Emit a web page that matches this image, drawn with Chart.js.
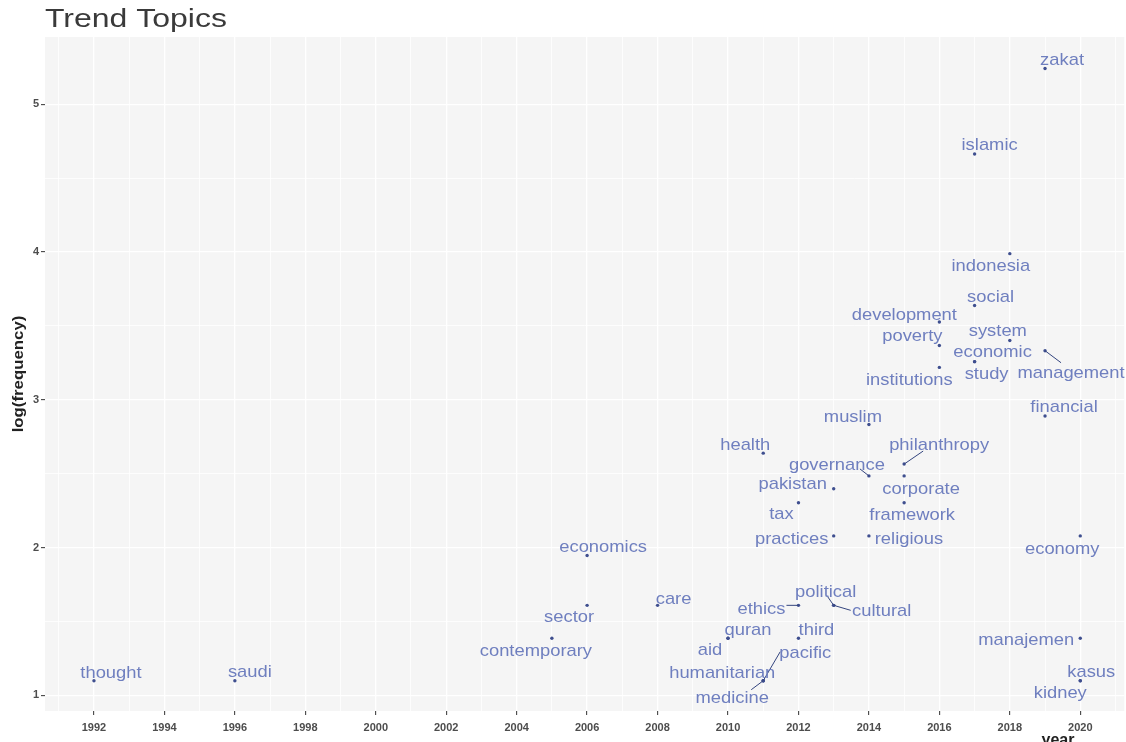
<!DOCTYPE html>
<html>
<head>
<meta charset="utf-8">
<title>Trend Topics</title>
<script src="https://cdn.jsdelivr.net/npm/chart.js@4.4.1/dist/chart.umd.min.js"></script>
<style>
  html, body { margin: 0; padding: 0; background: #ffffff; overflow: hidden; }
  #wrap { width: 1126px; height: 742px; position: relative; }
</style>
</head>
<body>
<div id="wrap"><canvas id="chart" width="1126" height="742"></canvas></div>
<script>
// Trend topics: each term, the year it peaked, and log(frequency)
const terms = [
  'thought', 'saudi', 'contemporary', 'sector', 'economics', 'care',
  'quran', 'aid', 'humanitarian', 'medicine', 'pacific', 'third',
  'ethics', 'political', 'cultural', 'practices', 'religious', 'tax',
  'pakistan', 'governance', 'corporate', 'framework', 'philanthropy', 'health',
  'muslim', 'financial', 'institutions', 'study', 'economic', 'management',
  'system', 'poverty', 'development', 'social', 'indonesia', 'islamic',
  'zakat', 'economy', 'manajemen', 'kasus', 'kidney'
];
const years = [
  1992, 1996, 2005, 2006, 2006, 2008,
  2010, 2010, 2011, 2011, 2011, 2012,
  2012, 2013, 2013, 2013, 2014, 2012,
  2013, 2014, 2015, 2015, 2015, 2011,
  2014, 2019, 2016, 2017, 2017, 2019,
  2018, 2016, 2016, 2017, 2018, 2017,
  2019, 2020, 2020, 2020, 2020
];
const logFreq = [
  1.099, 1.099, 1.386, 1.609, 1.946, 1.609,
  1.386, 1.386, 1.099, 1.099, 1.099, 1.386,
  1.609, 1.609, 1.609, 2.079, 2.079, 2.303,
  2.398, 2.485, 2.485, 2.303, 2.565, 2.639,
  2.833, 2.890, 3.219, 3.258, 3.258, 3.332,
  3.401, 3.367, 3.526, 3.638, 3.989, 4.663,
  5.242, 2.079, 1.386, 1.099, 1.099
];

// Axis tick labels
const xTickLabels = ['1992', '1994', '1996', '1998', '2000', '2002', '2004', '2006',
                     '2008', '2010', '2012', '2014', '2016', '2018', '2020'];
const yTickLabels = ['1', '2', '3', '4', '5'];

// Repelled label placement: pixel offset of each label centre from its point
const labelOffsets = [
  [17, -7], [15, -8], [-16, 13], [-18, 12], [16, -8], [16, -6],
  [20, -8], [-18, 12], [-41, -7], [-31, 18], [42, -27], [18, -8],
  [-37, 4], [-8, -13], [48, 6], [-42, 3], [40, 3], [-17, 12],
  [-41, -4], [-32, -11], [17, 13], [8, 13], [35, -19], [-18, -8],
  [-16, -7], [19, -9], [-30, 13], [12, 13], [18, -9], [26, 23],
  [-12, -9], [-27, -9], [-35, -7], [16, -8], [-19, 13], [15, -9],
  [17, -8], [-18, 13], [-54, 2], [11, -8], [-20, 13]
];
// Leader segments (end point relative to the term's point)
const leaderEnds = {
  medicine: [-12, 9],
  pacific: [17, -29],
  ethics: [-12, 0],
  political: [-7, -10],
  cultural: [17, 5],
  governance: [-9, -7],
  philanthropy: [19, -13],
  management: [16, 12]
};

const FONT = '"Liberation Sans", Arial, sans-serif';
const isWhole = v => Math.abs(v - Math.round(v)) < 1e-6;

// Text drawn with a horizontal stretch factor
function wideText(ctx, text, x, y, sx) {
  ctx.save();
  ctx.translate(x, y);
  ctx.scale(sx, 1);
  ctx.fillText(text, 0, 0);
  ctx.restore();
}

const panelBackground = {
  id: 'panelBackground',
  beforeDraw(chart) {
    const { ctx, chartArea: a } = chart;
    ctx.save();
    ctx.fillStyle = '#f5f5f5';
    ctx.fillRect(a.left, a.top, a.right - a.left, a.bottom - a.top);
    ctx.restore();
  }
};

const termLabels = {
  id: 'termLabels',
  afterDatasetsDraw(chart) {
    const { ctx } = chart;
    const meta = chart.getDatasetMeta(0);
    ctx.save();
    ctx.strokeStyle = '#34457f';
    ctx.lineWidth = 1;
    meta.data.forEach((pt, i) => {
      const seg = leaderEnds[terms[i]];
      if (!seg) return;
      ctx.beginPath();
      ctx.moveTo(pt.x, pt.y);
      ctx.lineTo(pt.x + seg[0], pt.y + seg[1]);
      ctx.stroke();
    });
    ctx.font = '17px ' + FONT;
    ctx.fillStyle = '#6f7fbf';
    ctx.textAlign = 'center';
    ctx.textBaseline = 'middle';
    meta.data.forEach((pt, i) => {
      const [dx, dy] = labelOffsets[i];
      wideText(ctx, terms[i], pt.x + dx, pt.y + dy, 1.08);
    });
    ctx.restore();
  }
};

const headings = {
  id: 'headings',
  afterDraw(chart) {
    const { ctx, chartArea: a } = chart;
    ctx.save();
    // chart title
    ctx.fillStyle = '#3a3a3a';
    ctx.textAlign = 'left';
    ctx.textBaseline = 'alphabetic';
    ctx.font = '26px ' + FONT;
    wideText(ctx, 'Trend Topics', a.left, 27, 1.23);
    // x axis title
    ctx.fillStyle = '#222222';
    ctx.textAlign = 'center';
    ctx.font = 'bold 16px ' + FONT;
    ctx.fillText('year', 1058, 745);
    // y axis title
    ctx.save();
    ctx.translate(19, (a.top + a.bottom) / 2);
    ctx.rotate(-Math.PI / 2);
    ctx.textBaseline = 'middle';
    ctx.font = 'bold 15px ' + FONT;
    wideText(ctx, 'log(frequency)', 0, 0, 1.12);
    ctx.restore();
    ctx.restore();
  }
};

new Chart(document.getElementById('chart'), {
  type: 'scatter',
  data: {
    datasets: [{
      label: 'terms',
      data: terms.map((t, i) => ({ x: years[i], y: logFreq[i] })),
      pointRadius: 1.7,
      pointHoverRadius: 1.7,
      pointBackgroundColor: '#3f4f8f',
      pointBorderWidth: 0
    }]
  },
  options: {
    responsive: false,
    devicePixelRatio: 1,
    animation: false,
    events: [],
    layout: { padding: { top: 37, left: 0, right: 0, bottom: 0 } },
    plugins: {
      legend: { display: false },
      tooltip: { enabled: false },
      title: { display: false }
    },
    scales: {
      x: {
        type: 'linear',
        min: 1990.61,
        max: 2021.25,
        afterFit(s) { s.height = 31; },
        border: { display: false },
        grid: {
          color: '#ffffff',
          lineWidth: c => (c.tick && isWhole(c.tick.value / 2)) ? 1.3 : 0.8,
          tickLength: 4,
          tickWidth: 1,
          tickColor: c => (c.tick && isWhole(c.tick.value) && xTickLabels.includes(String(Math.round(c.tick.value)))) ? '#333333' : 'rgba(0,0,0,0)'
        },
        ticks: {
          stepSize: 1,
          includeBounds: false,
          autoSkip: false,
          maxRotation: 0,
          padding: 6,
          color: '#4d4d4d',
          font: { family: FONT, size: 11, weight: 'bold' },
          callback: v => {
            const s = String(Math.round(v));
            return (isWhole(v) && xTickLabels.includes(s)) ? s : '';
          }
        }
      },
      y: {
        type: 'linear',
        min: 0.894,
        max: 5.455,
        afterFit(s) { s.width = 45; },
        border: { display: false },
        grid: {
          color: '#ffffff',
          lineWidth: c => (c.tick && isWhole(c.tick.value)) ? 1.3 : 0.8,
          tickLength: 4,
          tickWidth: 1,
          tickColor: c => (c.tick && isWhole(c.tick.value)) ? '#333333' : 'rgba(0,0,0,0)'
        },
        ticks: {
          stepSize: 0.5,
          includeBounds: false,
          autoSkip: false,
          padding: 2,
          color: '#4d4d4d',
          font: { family: FONT, size: 11, weight: 'bold' },
          callback: v => {
            const s = String(Math.round(v));
            return (isWhole(v) && yTickLabels.includes(s)) ? s : '';
          }
        }
      }
    }
  },
  plugins: [panelBackground, termLabels, headings]
});
</script>
</body>
</html>
